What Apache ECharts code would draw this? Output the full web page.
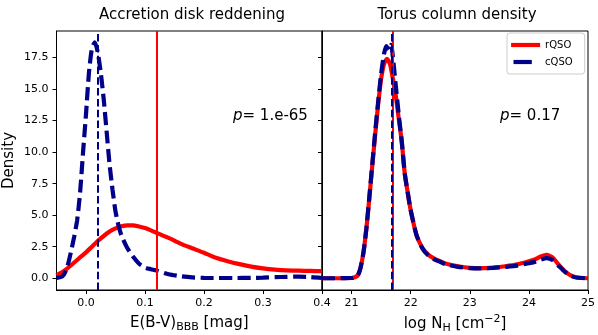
<!DOCTYPE html>
<html>
<head>
<meta charset="utf-8">
<script src="https://cdn.jsdelivr.net/npm/echarts@6/dist/echarts.min.js"></script>
<style>
  html, body { margin: 0; padding: 0; background: #fff; }
  #chart { width: 598px; height: 335px; }
</style>
</head>
<body>
<div id="chart"></div>
<script>
// left panel: accretion disk reddening E(B-V)
const ebvRedX = [-0.05, -0.04, -0.03, -0.02, -0.01, 0, 0.01, 0.02, 0.03, 0.04, 0.05, 0.06, 0.07, 0.08, 0.09, 0.1, 0.11, 0.12, 0.14, 0.16, 0.18, 0.2, 0.22, 0.24, 0.26, 0.28, 0.3, 0.32, 0.34, 0.36, 0.38, 0.4];
const ebvRedY = [0.25, 0.5, 0.85, 1.25, 1.65, 2.05, 2.5, 2.95, 3.35, 3.7, 3.95, 4.12, 4.2, 4.2, 4.1, 3.98, 3.8, 3.6, 3.2, 2.75, 2.38, 2.02, 1.62, 1.35, 1.12, 0.92, 0.78, 0.68, 0.62, 0.6, 0.58, 0.56];
const ebvBlueX = [-0.05, -0.04, -0.035, -0.03, -0.025, -0.02, -0.015, -0.01, -0.005, 0, 0.005, 0.01, 0.015, 0.02, 0.025, 0.03, 0.035, 0.04, 0.045, 0.05, 0.055, 0.06, 0.07, 0.08, 0.09, 0.1, 0.11, 0.12, 0.14, 0.16, 0.18, 0.2, 0.22, 0.25, 0.28, 0.3, 0.33, 0.36, 0.38, 0.4];
const ebvBlueY = [0.02, 0.15, 0.5, 1.2, 2.2, 3.3, 4.6, 6.8, 10.0, 13.0, 16.3, 18.2, 18.7, 17.9, 16.3, 14.2, 11.6, 9.0, 7.0, 5.3, 4.2, 3.4, 2.4, 1.7, 1.15, 0.85, 0.72, 0.6, 0.32, 0.16, 0.07, 0.03, 0.02, 0.02, 0.03, 0.05, 0.1, 0.13, 0.1, 0.02];
const ebvRedMedian = 0.12;
const ebvBlueMedian = 0.017;

// right panel: torus column density log NH
const nhRedX = [20.5, 21.0, 21.1, 21.15, 21.2, 21.25, 21.3, 21.35, 21.4, 21.45, 21.5, 21.55, 21.6, 21.65, 21.7, 21.75, 21.8, 21.85, 21.9, 21.95, 22.0, 22.1, 22.2, 22.3, 22.4, 22.5, 22.6, 22.8, 23.0, 23.2, 23.4, 23.6, 23.8, 24.0, 24.1, 24.2, 24.3, 24.4, 24.5, 24.6, 24.7, 24.8, 25.0];
const nhRedY = [0, 0.02, 0.2, 0.8, 2.0, 3.9, 6.3, 8.9, 11.4, 13.8, 15.8, 17.0, 17.4, 17.0, 15.8, 14.4, 12.6, 10.8, 8.3, 6.8, 5.4, 3.4, 2.4, 1.85, 1.55, 1.35, 1.15, 0.95, 0.82, 0.8, 0.85, 0.95, 1.1, 1.35, 1.5, 1.72, 1.85, 1.65, 1.1, 0.6, 0.25, 0.08, 0];
const nhBlueX = [20.5, 21.0, 21.1, 21.15, 21.2, 21.25, 21.3, 21.35, 21.4, 21.45, 21.5, 21.55, 21.59, 21.63, 21.67, 21.7, 21.75, 21.8, 21.85, 21.9, 21.95, 22.0, 22.1, 22.2, 22.3, 22.4, 22.5, 22.6, 22.8, 23.0, 23.2, 23.4, 23.6, 23.8, 24.0, 24.1, 24.2, 24.3, 24.4, 24.5, 24.6, 24.7, 24.8, 25.0];
const nhBlueY = [0, 0.02, 0.2, 0.8, 2.0, 3.9, 6.4, 9.0, 11.6, 14.0, 16.2, 17.8, 18.4, 18.1, 18.5, 17.5, 15.2, 12.9, 10.8, 8.3, 6.8, 5.4, 3.4, 2.35, 1.8, 1.5, 1.3, 1.1, 0.9, 0.8, 0.78, 0.82, 0.9, 1.0, 1.2, 1.3, 1.48, 1.6, 1.45, 1.0, 0.55, 0.22, 0.06, 0];
const nhRedMedian = 21.69;
const nhBlueMedian = 21.68;

const densityTicks = [0, 2.5, 5, 7.5, 10, 12.5, 15, 17.5];
const ebvTicks = [0, 0.1, 0.2, 0.3, 0.4];
const nhTicks = [21, 22, 23, 24, 25];

const RED = '#ff0000';
const BLUE = '#00008b';
const FONT = 'DejaVu Sans';

const pairs = (xs, ys) => xs.map((x, i) => [x, ys[i]]);

const axisBase = {
  type: 'value',
  axisLine: { show: true, onZero: false, lineStyle: { color: '#000', width: 1 } },
  axisTick: { show: true, inside: false, length: 4, lineStyle: { color: '#000' } },
  splitLine: { show: false },
};

const labelStyle = { color: '#000', fontFamily: FONT, fontSize: 11 };

const nameRich = {
  a: { fontFamily: FONT, fontSize: 15, color: '#000', lineHeight: 20 },
  sub: { fontFamily: FONT, fontSize: 11, color: '#000', lineHeight: 20, verticalAlign: 'bottom' },
  sup: { fontFamily: FONT, fontSize: 11, color: '#000', lineHeight: 20, verticalAlign: 'top' },
};

const vline = (value, color, type) => ({
  silent: true,
  symbol: 'none',
  label: { show: false },
  lineStyle: { color: color, width: 2, type: type },
  data: [{ xAxis: value }],
});

const curve = (name, xi, data, color, dashed, markValue) => ({
  name: name,
  type: 'line',
  xAxisIndex: xi,
  yAxisIndex: xi,
  data: data,
  showSymbol: false,
  symbol: 'none',
  smooth: 0.2,
  lineStyle: { color: color, width: 4.2, type: dashed ? [13, 5.5] : 'solid', cap: 'butt' },
  itemStyle: { color: color },
  markLine: vline(markValue, color, dashed ? [7.5, 3.3] : 'solid'),
  z: dashed ? 3 : 2,
});

const option = {
  backgroundColor: '#fff',
  animation: false,
  grid: [
    { left: 56.5, top: 31, width: 265.5, height: 259, show: true, borderColor: '#000', borderWidth: 1, outerBoundsMode: 'none' },
    { left: 322, top: 31, width: 266, height: 259, show: true, borderColor: '#000', borderWidth: 1, outerBoundsMode: 'none' },
  ],
  xAxis: [
    {
      ...axisBase,
      gridIndex: 0,
      min: -0.05,
      max: 0.4,
      axisTick: { ...axisBase.axisTick, customValues: ebvTicks },
      axisLabel: { ...labelStyle, margin: 8, customValues: ebvTicks, showMinLabel: true, showMaxLabel: true,
        formatter: (v) => v.toFixed(1) },
      name: '{a|E(B-V)}{sub|BBB}{a| [mag]}',
      nameLocation: 'middle',
      nameGap: 23,
      nameTextStyle: { rich: nameRich },
    },
    {
      ...axisBase,
      gridIndex: 1,
      min: 20.5,
      max: 25,
      axisTick: { ...axisBase.axisTick, customValues: nhTicks },
      axisLabel: { ...labelStyle, margin: 8, customValues: nhTicks, showMinLabel: true, showMaxLabel: true },
      name: '{a|log N}{sub|H}{a| [cm}{sup|−2}{a|]}',
      nameLocation: 'middle',
      nameGap: 23,
      nameTextStyle: { rich: nameRich },
    },
  ],
  yAxis: [
    {
      ...axisBase,
      gridIndex: 0,
      min: -0.93,
      max: 19.6,
      axisTick: { ...axisBase.axisTick, customValues: densityTicks },
      axisLabel: { ...labelStyle, margin: 8, customValues: densityTicks, formatter: (v) => v.toFixed(1) },
      name: 'Density',
      nameLocation: 'middle',
      nameGap: 40,
      nameTextStyle: { fontFamily: FONT, fontSize: 15, color: '#000' },
    },
    {
      ...axisBase,
      gridIndex: 1,
      min: -0.93,
      max: 19.6,
      axisTick: { ...axisBase.axisTick, customValues: densityTicks },
      axisLabel: { show: false, customValues: densityTicks },
    },
  ],
  legend: {
    orient: 'vertical',
    left: 507,
    top: 33,
    padding: [7, 12, 7, 2],
    itemGap: 7,
    itemWidth: 29,
    itemHeight: 12,
    borderColor: '#cccccc',
    borderWidth: 1,
    borderRadius: 3,
    backgroundColor: 'rgba(255,255,255,0.8)',
    textStyle: { fontFamily: FONT, fontSize: 10, color: '#000', padding: [0, 0, 0, 0] },
    data: [
      { name: 'rQSO', itemStyle: { opacity: 0 }, lineStyle: { color: RED, width: 4.2, type: 'solid', cap: 'butt' } },
      { name: 'cQSO', itemStyle: { opacity: 0 }, lineStyle: { color: BLUE, width: 4.2, type: [18.3, 20], dashOffset: 35.9, cap: 'butt' } },
    ],
  },
  graphic: [
    { type: 'text', x: 192, y: 15, style: { text: 'Accretion disk reddening', font: '15px "DejaVu Sans"', fill: '#000', align: 'center', verticalAlign: 'middle' } },
    { type: 'text', x: 457, y: 15, style: { text: 'Torus column density', font: '15px "DejaVu Sans"', fill: '#000', align: 'center', verticalAlign: 'middle' } },
    { type: 'text', left: 233, top: 109, style: { text: '{i|p}{n|= 1.e-65}', rich: {
      i: { font: 'italic 15px "DejaVu Sans"', fill: '#000' }, n: { font: '15px "DejaVu Sans"', fill: '#000' } } } },
    { type: 'text', left: 500, top: 109, style: { text: '{i|p}{n|= 0.17}', rich: {
      i: { font: 'italic 15px "DejaVu Sans"', fill: '#000' }, n: { font: '15px "DejaVu Sans"', fill: '#000' } } } },
  ],
  series: [
    curve('rQSO', 0, pairs(ebvRedX, ebvRedY), RED, false, ebvRedMedian),
    curve('cQSO', 0, pairs(ebvBlueX, ebvBlueY), BLUE, true, ebvBlueMedian),
    curve('rQSO', 1, pairs(nhRedX, nhRedY), RED, false, nhRedMedian),
    curve('cQSO', 1, pairs(nhBlueX, nhBlueY), BLUE, true, nhBlueMedian),
  ],
};

const chart = echarts.init(document.getElementById('chart'), null, { renderer: 'canvas' });
chart.setOption(option);
window.addEventListener('resize', () => chart.resize());
</script>
</body>
</html>
